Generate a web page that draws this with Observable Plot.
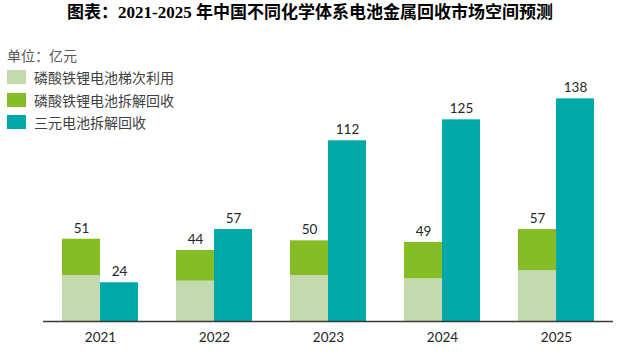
<!DOCTYPE html>
<html>
<head>
<meta charset="utf-8">
<script src="https://cdn.jsdelivr.net/npm/d3@7"></script>
<script src="https://cdn.jsdelivr.net/npm/@observablehq/plot@0.6"></script>
<style>
  html, body { margin: 0; padding: 0; background: #fff; }
  #wrap { position: relative; width: 617px; height: 358px; overflow: hidden; }
  #chart { position: absolute; left: 0; top: 0; }
  #title { position: absolute; left: 67px; top: 0; height: 25px; line-height: 25px; white-space: nowrap;
           font-family: "Liberation Serif", "Noto Sans CJK SC", serif; font-weight: bold; font-size: 17px; color: #000; }
  #unit { position: absolute; left: 7px; top: 46px; height: 19px; line-height: 19px; white-space: nowrap;
          font-family: "Noto Sans CJK SC", sans-serif; font-size: 14px; color: #595959; }
  .lg { position: absolute; left: 7px; height: 20px; display: flex; align-items: center; white-space: nowrap;
        font-family: "Noto Sans CJK SC", sans-serif; font-size: 14px; color: #404040; }
  .lg .sw { width: 19px; height: 14px; margin-right: 8px; flex: none; }
</style>
</head>
<body>
<div id="wrap">
  <div id="chart"></div>
  <div id="title">图表：2021-2025 年中国不同化学体系电池金属回收市场空间预测</div>
  <div id="unit">单位：亿元</div>
</div>
<script>
// ---- data ----
const years = ["2021", "2022", "2023", "2024", "2025"];
const seriesNames = ["磷酸铁锂电池梯次利用", "磷酸铁锂电池拆解回收", "三元电池拆解回收"];
const seriesColors = ["#C4D9AE", "#86BC25", "#00A9A7"];
const lfpTotal = [51, 44, 50, 49, 57];          // 磷酸铁锂合计（标注值）
const lfpCascade = [28.5, 25, 28.5, 26.5, 31.5]; // 梯次利用（估读）
const ternary = [24, 57, 112, 125, 138];        // 三元电池拆解回收

// ---- tables built from arrays ----
const rows = [];
years.forEach((yr, i) => {
  rows.push({year: yr, group: "lfp", series: seriesNames[0], value: lfpCascade[i]});
  rows.push({year: yr, group: "lfp", series: seriesNames[1], value: lfpTotal[i] - lfpCascade[i]});
  rows.push({year: yr, group: "ncm", series: seriesNames[2], value: ternary[i]});
});
const labels = [];
years.forEach((yr, i) => {
  labels.push({year: yr, group: "lfp", total: lfpTotal[i]});
  labels.push({year: yr, group: "ncm", total: ternary[i]});
});

const W = 617, ML = 42, MR = 4;
const pIn = 1/3, pOut = 1/6;
const halfGap = ((W - ML - MR) / years.length) * pIn / 2; // extend baseline across facet gaps

const chart = Plot.plot({
  width: W,
  height: 358,
  marginLeft: ML,
  marginRight: MR,
  marginTop: 79,
  marginBottom: 37,
  style: {fontFamily: "Lato, 'Noto Sans', sans-serif", background: "transparent"},
  fx: {domain: years, paddingInner: pIn, paddingOuter: pOut, axis: null, label: null},
  x: {domain: ["lfp", "ncm"], padding: 0, axis: null, label: null},
  y: {domain: [0, 150], axis: null, label: null},
  color: {domain: seriesNames, range: seriesColors},
  marks: [
    Plot.barY(rows, {fx: "year", x: "group", y: "value", fill: "series", inset: 0}),
    Plot.ruleY([0], {stroke: "#3a3a3a", strokeWidth: 1.4, insetLeft: -halfGap, insetRight: -halfGap}),
    Plot.text(labels, {fx: "year", x: "group", y: "total", text: d => String(d.total),
                       dy: -11, fontSize: 13.5, fill: "#262626"}),
    Plot.axisFx({anchor: "bottom", tickSize: 0, tickPadding: 11, fontSize: 13.5, fill: "#262626", label: null})
  ]
});
document.getElementById("chart").appendChild(chart);

// legend built from the series arrays
const wrap = document.getElementById("wrap");
const legendCenters = [77, 99.5, 122];
seriesNames.forEach((name, i) => {
  const item = document.createElement("div");
  item.className = "lg";
  item.style.top = (legendCenters[i] - 10) + "px";
  const sw = document.createElement("span");
  sw.className = "sw";
  sw.style.background = seriesColors[i];
  const tx = document.createElement("span");
  tx.textContent = name;
  item.appendChild(sw);
  item.appendChild(tx);
  wrap.appendChild(item);
});
</script>
</body>
</html>
